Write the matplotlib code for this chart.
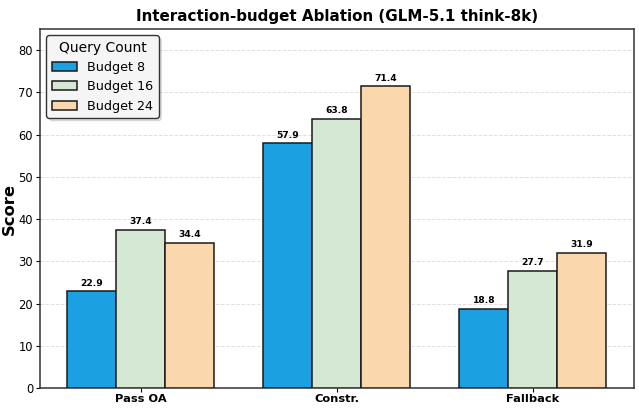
import matplotlib
matplotlib.use("Agg")
import matplotlib.pyplot as plt
import numpy as np

categories = ["Pass OA", "Constr.", "Fallback"]
series_names = ["Budget 8", "Budget 16", "Budget 24"]
budget8 = [22.9, 57.9, 18.8]
budget16 = [37.4, 63.8, 27.7]
budget24 = [34.4, 71.4, 31.9]
colors = ["#1ba1e2", "#d5e8d4", "#fad7ac"]

fig, ax = plt.subplots(figsize=(6.39, 4.09), dpi=100)
fig.subplots_adjust(left=0.0626, right=0.992, top=0.929, bottom=0.0513)

x = np.arange(len(categories))
w = 0.25
for i, (vals, name) in enumerate(zip([budget8, budget16, budget24], series_names)):
    bars = ax.bar(x + (i - 1) * w, vals, w, label=name, color=colors[i],
                  edgecolor="#1a1a1a", linewidth=1.1, zorder=3)
    for b, v in zip(bars, vals):
        ax.text(b.get_x() + b.get_width() / 2, v + 0.9, f"{v:.1f}",
                ha="center", va="bottom", fontsize=6.6, fontweight="bold", zorder=4)

ax.set_xlim(-0.515, 2.515)
ax.set_ylim(0, 85)
ax.set_yticks(range(0, 81, 10))
ax.set_xticks(x)
ax.set_xticklabels(categories, fontweight="bold", fontsize=8.2)
ax.tick_params(axis="y", labelsize=8.3, length=3, pad=2)
ax.tick_params(axis="x", length=3, pad=1.5)
ax.set_ylabel("Score", fontweight="bold", fontsize=11.8, labelpad=1)
ax.set_title("Interaction-budget Ablation (GLM-5.1 think-8k)", fontweight="bold", fontsize=10.9, pad=6)
ax.yaxis.grid(True, linestyle="--", color="#e0e0e0", linewidth=0.7, zorder=0)
ax.set_axisbelow(True)
for s in ax.spines.values():
    s.set_color("#333333")
    s.set_linewidth(1.1)

leg = ax.legend(title="Query Count", fontsize=9.2, title_fontsize=10, loc="upper left",
                frameon=True, shadow={"alpha": 0.15}, fancybox=True, edgecolor="#333333",
                borderaxespad=0.5, handlelength=2.0)
leg.get_frame().set_facecolor("#f5f5f5")

fig.savefig("out.png", dpi=100)
